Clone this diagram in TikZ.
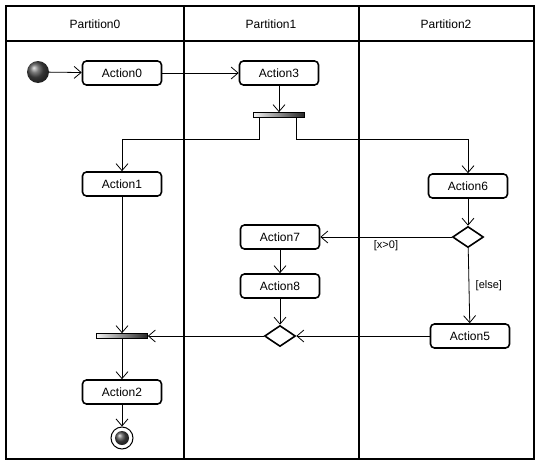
\documentclass[tikz,border=0pt]{standalone}
\usepackage{fontspec}
\setmainfont{Liberation Sans}
\usepackage{tikz}
\usetikzlibrary{arrows.meta, positioning, shapes.geometric, calc}
\tikzset{%
	action/.style={draw, rectangle, minimum width=79pt, minimum height=24pt,%
		rounded corners=4pt, line width=1.6pt, inner sep=0pt, font=\fontsize{12}{14}\selectfont},
	branch/.style={draw, diamond, minimum width=31pt, minimum height=21pt, inner sep=0pt, line width=1.6pt},
	bar/.style={draw, rectangle, minimum width=51pt, minimum height=5pt, inner sep=0pt,%
		line width=0.6pt, left color=white!90!gray, middle color=black!85, right color=black!85},
	start/.style={circle, minimum size=22pt, inner sep=0pt, shading=ball, ball color=gray!60!black},
	stopring/.style={draw, circle, minimum size=22pt, inner sep=0pt, line width=1pt},
	flow/.style={-{Straight Barb[length=7pt,width=12pt]}, line width=0.8pt},
	lane/.style={line width=1.6pt},
	title/.style={font=\fontsize{12}{14}\selectfont},
	guard/.style={font=\fontsize{11}{13}\selectfont}
}
\begin{document}
\begin{tikzpicture}[x=1pt, y=-1pt]
	\useasboundingbox (0,0) rectangle (541,466);

	% swimlanes
	\draw[lane] (6,6) rectangle (534,459);
	\draw[lane] (6,41) -- (534,41);
	\draw[lane] (184,6) -- (184,459);
	\draw[lane] (359,6) -- (359,459);
	\node[title] (p0) at (95,24) {Partition0};
	\node[title] (p1) at (271,24) {Partition1};
	\node[title] (p2) at (446,24) {Partition2};

	% nodes
	\node[start] (init) at (38,72) {};
	\node[action] (a0) at (122,73) {Action0};
	\node[action] (a3) at (279,73) {Action3};
	\node[bar] (fork) at (279,115) {};
	\node[action] (a1) at (122,184) {Action1};
	\node[action] (a6) at (468,186) {Action6};
	\node[branch] (dec) at (468,237) {};
	\node[action] (a7) at (280,237) {Action7};
	\node[action] (a8) at (280,286) {Action8};
	\node[branch] (merge) at (280,336) {};
	\node[action] (a5) at (470,336) {Action5};
	\node[bar] (join) at (122,336) {};
	\node[action] (a2) at (122,392) {Action2};
	\node[stopring] (fin) at (122,438) {};
	\node[start, minimum size=14pt] (fincore) at (fin) {};

	% flows
	\draw[flow] (init) -- (a0);
	\draw[flow] (a0) -- (a3);
	\draw[flow] (a3) -- (fork);
	\draw[flow] ([xshift=6pt]fork.south west) -- ++(0,22) -| (a1);
	\draw[flow] ([xshift=-8pt]fork.south east) -- ++(0,22) -| (a6);
	\draw[flow] (a6) -- (dec);
	\draw[flow] (dec) -- node[guard, below] {[x>0]} (a7);
	\draw[flow] (dec) -- node[guard, right=3pt] {[else]} (a5);
	\draw[flow] (a7) -- (a8);
	\draw[flow] (a8) -- (merge);
	\draw[flow] (a5) -- (merge);
	\draw[flow] (merge) -- (join);
	\draw[flow] (a1) -- (join);
	\draw[flow] (join) -- (a2);
	\draw[flow] (a2) -- (fin);
\end{tikzpicture}
\end{document}
